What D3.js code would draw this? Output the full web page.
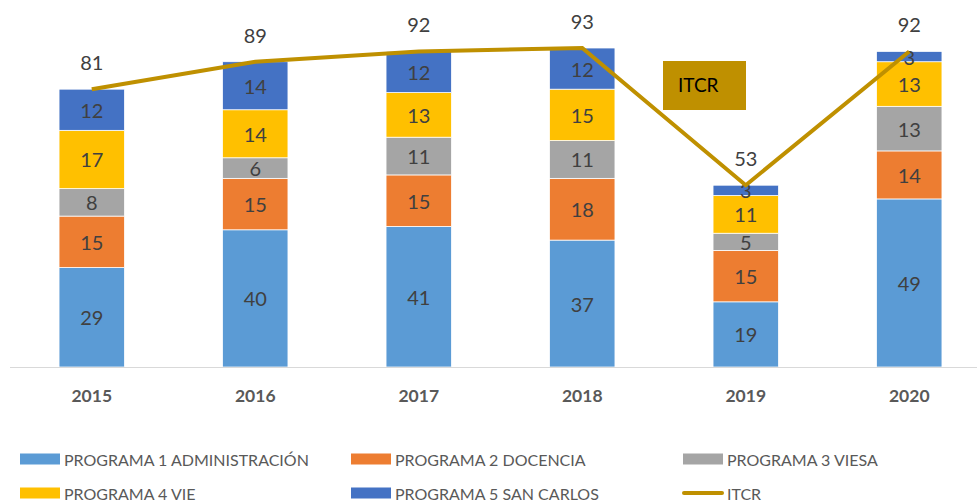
<!DOCTYPE html>
<html>
<head>
<meta charset="utf-8">
<script src="https://cdn.jsdelivr.net/npm/d3@7"></script>
<style>
  body { margin: 0; background: #fff; }
  text { font-family: Lato, "Open Sans", sans-serif; }
</style>
</head>
<body>
<div id="chart"></div>
<script>
const width = 977,
  height = 502;

const years = ["2015", "2016", "2017", "2018", "2019", "2020"];
const seriesNames = ["PROGRAMA 1 ADMINISTRACIÓN", "PROGRAMA 2 DOCENCIA", "PROGRAMA 3 VIESA", "PROGRAMA 4 VIE", "PROGRAMA 5 SAN CARLOS"];
const programa1 = [29, 40, 41, 37, 19, 49];
const programa2 = [15, 15, 15, 18, 15, 14];
const programa3 = [8, 6, 11, 11, 5, 13];
const programa4 = [17, 14, 13, 15, 11, 13];
const programa5 = [12, 14, 12, 12, 3, 3];
const itcr = [81, 89, 92, 93, 53, 92];
const colors = ["#5B9BD5", "#ED7D31", "#A5A5A5", "#FFC000", "#4472C4"];
const lineColor = "#BF9000";

const rows = years.map((y, i) => ({
  year: y,
  p1: programa1[i], p2: programa2[i], p3: programa3[i], p4: programa4[i], p5: programa5[i]
}));
const keys = ["p1", "p2", "p3", "p4", "p5"];

const svg = d3.select("#chart")
  .append("svg")
  .attr("width", width)
  .attr("height", height);

const x = d3.scaleBand()
  .domain(years)
  .range([10, 991])
  .paddingInner(0.6)
  .paddingOuter(0.3);

const y = d3.scaleLinear()
  .domain([0, 100])
  .range([367, 24]);

const stacked = d3.stack().keys(keys)(rows);

// bars
const layer = svg.selectAll("g.layer")
  .data(stacked)
  .join("g")
  .attr("class", "layer")
  .attr("fill", (d, i) => colors[i]);

layer.selectAll("rect")
  .data(d => d)
  .join("rect")
  .attr("x", d => x(d.data.year))
  .attr("y", d => y(d[1]))
  .attr("width", x.bandwidth())
  .attr("height", d => y(d[0]) - y(d[1]))
  .attr("stroke", "#fff")
  .attr("stroke-width", 0.75);

// segment labels
layer.selectAll("text")
  .data(d => d)
  .join("text")
  .attr("x", d => x(d.data.year) + x.bandwidth() / 2)
  .attr("y", d => (y(d[0]) + y(d[1])) / 2)
  .attr("text-anchor", "middle")
  .attr("dominant-baseline", "central")
  .attr("fill", "#404040")
  .style("font-size", "20px")
  .text(d => d[1] - d[0]);

// axis line
svg.append("line")
  .attr("x1", 10).attr("x2", 977)
  .attr("y1", y(0) + 0.5).attr("y2", y(0) + 0.5)
  .attr("stroke", "#D9D9D9")
  .attr("stroke-width", 1);

// year labels
svg.selectAll("text.year")
  .data(years)
  .join("text")
  .attr("class", "year")
  .attr("x", d => x(d) + x.bandwidth() / 2)
  .attr("y", 395)
  .attr("text-anchor", "middle")
  .attr("dominant-baseline", "central")
  .attr("fill", "#595959")
  .style("font-size", "17.5px")
  .style("font-weight", "bold")
  .text(d => d);

// ITCR line
const line = d3.line()
  .x((d, i) => x(years[i]) + x.bandwidth() / 2)
  .y(d => y(d));

svg.append("path")
  .datum(itcr)
  .attr("d", line)
  .attr("fill", "none")
  .attr("stroke", lineColor)
  .attr("stroke-width", 4);

svg.selectAll("text.total")
  .data(itcr)
  .join("text")
  .attr("class", "total")
  .attr("x", (d, i) => x(years[i]) + x.bandwidth() / 2)
  .attr("y", d => y(d) - 27)
  .attr("text-anchor", "middle")
  .attr("dominant-baseline", "central")
  .attr("fill", "#404040")
  .style("font-size", "20px")
  .text(d => d);

// ITCR box
svg.append("rect")
  .attr("x", 663).attr("y", 61)
  .attr("width", 83).attr("height", 49)
  .attr("fill", lineColor);
svg.append("text")
  .attr("x", 678).attr("y", 84)
  .attr("dominant-baseline", "central")
  .attr("fill", "#000")
  .style("font-size", "19px")
  .text("ITCR");

// legend
const legendItems = seriesNames.map((n, i) => ({ name: n, color: colors[i], type: "rect" }))
  .concat([{ name: "ITCR", color: lineColor, type: "line" }]);
const colX = [20, 351, 683];
const rowY = [459, 493];

const leg = svg.selectAll("g.legend")
  .data(legendItems)
  .join("g")
  .attr("class", "legend")
  .attr("transform", (d, i) => `translate(${colX[i % 3]},${rowY[Math.floor(i / 3)]})`);

leg.filter(d => d.type === "rect")
  .append("rect")
  .attr("x", 0).attr("y", -5.5)
  .attr("width", 40).attr("height", 11)
  .attr("fill", d => d.color);

leg.filter(d => d.type === "line")
  .append("line")
  .attr("x1", 1).attr("x2", 39)
  .attr("y1", 0).attr("y2", 0)
  .attr("stroke", d => d.color)
  .attr("stroke-width", 4)
  .attr("stroke-linecap", "round");

leg.append("text")
  .attr("x", 44)
  .attr("y", 0)
  .attr("dominant-baseline", "central")
  .attr("fill", "#595959")
  .style("font-size", "16px")
  .text(d => d.name);
</script>
</body>
</html>
